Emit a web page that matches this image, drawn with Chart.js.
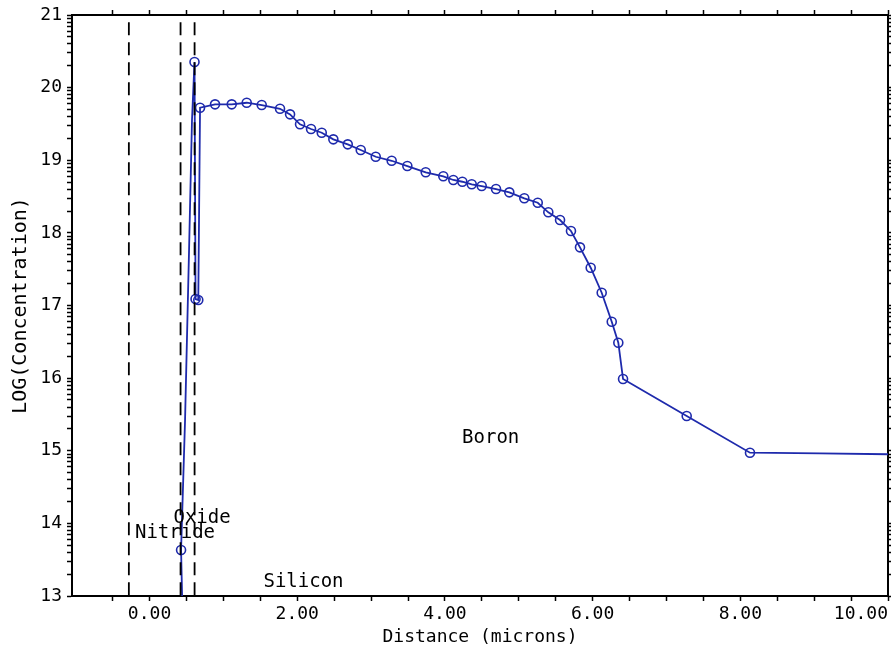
<!DOCTYPE html>
<html>
<head>
<meta charset="utf-8">
<title>Boron profile</title>
<script src="https://cdn.jsdelivr.net/npm/chart.js@4.4.1/dist/chart.umd.min.js"></script>
<style>
  html, body { margin: 0; padding: 0; background: #fff; }
  canvas { display: block; }
</style>
</head>
<body>
<canvas id="profile-chart" width="891" height="652"></canvas>
<script>
// boron profile: distance (microns) and LOG(concentration)
var distance = [0.454, 0.427, 0.481, 0.535, 0.575, 0.609, 0.623, 0.660, 0.684,
    0.887, 1.113, 1.316, 1.519, 1.767, 1.903, 2.038, 2.187, 2.332, 2.489,
    2.684, 2.860, 3.063, 3.279, 3.491, 3.740, 3.978, 4.114, 4.236, 4.363,
    4.498, 4.692, 4.872, 5.075, 5.257, 5.400, 5.559, 5.707, 5.829, 5.974,
    6.123, 6.259, 6.348, 6.412, 7.274, 8.131, 9.079, 10.05];
var logConc = [12.4, 13.633, 15.423, 17.76, 19.554, 20.352, 17.089, 17.075, 19.723,
    19.770, 19.770, 19.792, 19.760, 19.709, 19.632, 19.495, 19.430, 19.379, 19.288,
    19.219, 19.141, 19.048, 18.993, 18.920, 18.834, 18.779, 18.728, 18.704, 18.669,
    18.645, 18.604, 18.558, 18.476, 18.415, 18.283, 18.177, 18.026, 17.801, 17.520,
    17.176, 16.777, 16.488, 15.987, 15.478, 14.973, 14.965, 14.951];
// points that are only bends of the line, no circle drawn on them
var bendIdx = [0, 2, 3, 4, 45, 46];

// material interfaces (dashed lines)
var interfaceX = [-0.28, 0.42, 0.61];
var interfaceTop = 20.9;

var regionNames = ['Boron', 'Silicon', 'Oxide', 'Nitride'];
var regionX = [4.62, 2.085, 0.711, 0.345];
var regionY = [15.175, 13.186, 14.07, 13.87];

var xMin = -1.05, xMax = 10;
var yMin = 13, yMax = 21;

var blue = 'rgb(30, 42, 172)';
var monoFont = "'DejaVu Sans Mono', monospace";

// tick marks: every 0.5 micron on x, decades plus log minor ticks on y
var xTicks = [];
for (var i = -1; i <= 20; i++) xTicks.push(i / 2);
var yTicks = [];
for (var n = yMin; n <= yMax; n++) {
    yTicks.push(n);
    if (n < yMax)
        for (var k = 2; k <= 9; k++) yTicks.push(n + Math.log10(k));
}

var setXTicks = function(scale) { scale.ticks = xTicks.map(v => ({value: v})); };
var setYTicks = function(scale) { scale.ticks = yTicks.map(v => ({value: v})); };

var fixSize = function(w, h) {
    return function(scale) {
        if (w !== null) scale.width = w;
        if (h !== null) scale.height = h;
        scale.paddingLeft = 0;
        scale.paddingRight = 0;
        scale.paddingTop = 0;
        scale.paddingBottom = 0;
    };
};

var tickGrid = {
    drawOnChartArea: false,
    drawTicks: true,
    tickLength: 5,
    color: '#000',
    tickWidth: 1.5
};
var axisBorder = { display: true, color: '#000', width: 2 };

var regionLabels = {
    id: 'regionLabels',
    afterDatasetsDraw: function(chart) {
        var ctx = chart.ctx;
        ctx.save();
        ctx.font = '19px ' + monoFont;
        ctx.fillStyle = '#000';
        ctx.textAlign = 'center';
        ctx.textBaseline = 'middle';
        for (var i = 0; i < regionNames.length; i++) {
            ctx.fillText(regionNames[i],
                chart.scales.x.getPixelForValue(regionX[i]),
                chart.scales.y.getPixelForValue(regionY[i]));
        }
        ctx.restore();
    }
};

var datasets = interfaceX.map(function(x) {
    return {
        data: [{x: x, y: interfaceTop}, {x: x, y: yMin - 0.2}],
        showLine: true,
        borderColor: '#000',
        borderWidth: 1.8,
        borderDash: [13, 7],
        pointRadius: 0
    };
});

datasets.push({
    data: distance.map((x, i) => ({x: x, y: logConc[i]})),
    showLine: true,
    borderColor: blue,
    borderWidth: 1.8,
    pointRadius: ctx => bendIdx.includes(ctx.dataIndex) ? 0 : 4.5,
    pointBorderColor: blue,
    pointBackgroundColor: 'rgba(0,0,0,0)',
    pointBorderWidth: 1.6
});

Chart.defaults.font.family = monoFont;
Chart.defaults.color = '#000';

var ctx = document.getElementById('profile-chart').getContext('2d');
var profileChart = new Chart(ctx, {
    type: 'scatter',
    data: { datasets: datasets },
    options: {
        responsive: false,
        animation: false,
        layout: { padding: 0 },
        plugins: { legend: { display: false }, tooltip: { enabled: false } },
        scales: {
            x: {
                type: 'linear', position: 'bottom', min: xMin, max: xMax,
                afterBuildTicks: setXTicks,
                afterFit: fixSize(null, 56),
                grid: tickGrid, border: axisBorder,
                ticks: {
                    autoSkip: false, maxRotation: 0, padding: 3, align: 'inner',
                    font: { size: 18 },
                    callback: v => (Math.abs(v % 2) < 1e-9 && v >= 0) ? v.toFixed(2) : ''
                },
                title: {
                    display: true, text: 'Distance (microns)',
                    font: { size: 18 }, padding: { top: 0, bottom: 4 }
                }
            },
            xTop: {
                axis: 'x', type: 'linear', position: 'top', min: xMin, max: xMax,
                afterBuildTicks: setXTicks,
                afterFit: fixSize(null, 15),
                grid: tickGrid, border: axisBorder,
                ticks: { autoSkip: false, maxRotation: 0, callback: () => '' }
            },
            y: {
                type: 'linear', position: 'left', min: yMin, max: yMax,
                afterBuildTicks: setYTicks,
                afterFit: fixSize(72, null),
                grid: tickGrid, border: axisBorder,
                ticks: {
                    autoSkip: false, padding: 5,
                    font: { size: 18 },
                    callback: v => Number.isInteger(v) ? String(v) : ''
                },
                title: {
                    display: true, text: 'LOG(Concentration)',
                    font: { size: 20 }, padding: { top: 9, bottom: 0 }
                }
            },
            yRight: {
                axis: 'y', type: 'linear', position: 'right', min: yMin, max: yMax,
                afterBuildTicks: setYTicks,
                afterFit: fixSize(3, null),
                grid: tickGrid, border: axisBorder,
                ticks: { autoSkip: false, callback: () => '' }
            }
        }
    },
    plugins: [regionLabels]
});
</script>
</body>
</html>
